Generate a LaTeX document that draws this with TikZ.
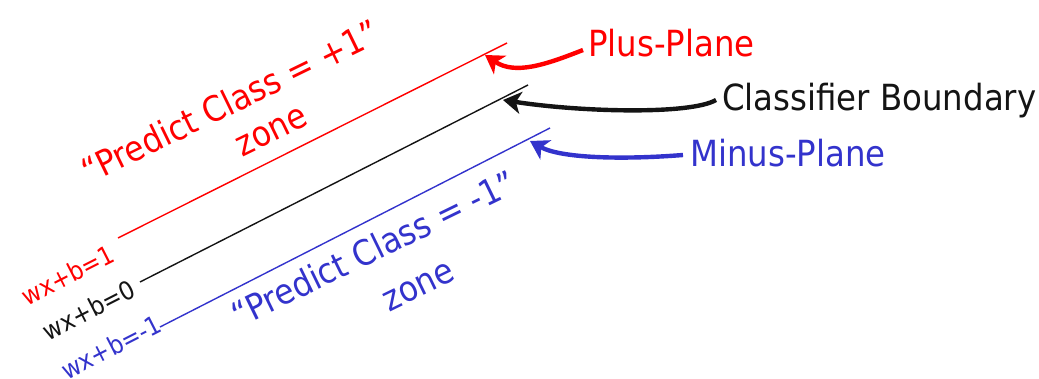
\documentclass[tikz,border=0pt]{standalone}
\usepackage{fontspec}
\setmainfont{DejaVu Sans}
\newfontfamily\tfont[FakeStretch=0.9]{DejaVu Sans}
\usetikzlibrary{arrows.meta}
\definecolor{pred}{RGB}{255,0,0}
\definecolor{pblue}{RGB}{51,51,204}
\definecolor{pblack}{RGB}{20,20,20}
\begin{document}
\begin{tikzpicture}[x=1pt,y=-1pt,
  plane/.style={line width=1.4pt},
  pointer/.style={line width=4.4pt, -{Stealth[length=18pt,width=22pt,inset=5pt]}},
  bigtext/.style={font=\tfont\fontsize{36}{40}\selectfont, inner sep=0pt},
  zonetext/.style={font=\tfont\fontsize{35}{40}\selectfont, inner sep=0pt, rotate=26},
  smalltext/.style={font=\tfont\fontsize{25.5}{28}\selectfont, inner sep=0pt, rotate=27}]
\useasboundingbox (0,0) rectangle (1039,379);
% planes
\coordinate (r1) at (118,238); \coordinate (r2) at (507,43);
\coordinate (k1) at (140,282); \coordinate (k2) at (528,85);
\coordinate (b1) at (160,327); \coordinate (b2) at (550,128);
\draw[plane, pred] (r1) -- (r2);
\draw[plane, pblack] (k1) -- (k2);
\draw[plane, pblue] (b1) -- (b2);
% labels on planes
\node[smalltext, pred] (lr) at (68,275) {wx+b=1};
\node[smalltext, pblack] (lk) at (89,310) {wx+b=0};
\node[smalltext, pblue] (lb) at (111,347) {wx+b=-1};
% zone texts
\node[zonetext, pred, anchor=base] (zr) at (236,113) {“Predict Class = +1”};
\node[zonetext, pred] (zr2) at (272,132) {zone};
\node[zonetext, pblue, anchor=base] (zb) at (379,260) {“Predict Class = -1”};
\node[zonetext, pblue] (zb2) at (419,287) {zone};
% names
\node[bigtext, pred, anchor=base west] (plus) at (588,57) {Plus-Plane};
\node[bigtext, pblack, anchor=base west] (cls) at (722,111) {Classifier Boundary};
\node[bigtext, pblue, anchor=base west] (minus) at (690,167) {Minus-Plane};
% pointers
\coordinate (ps) at (583,50); \coordinate (pt) at (485,55);
\coordinate (cs) at (716,100); \coordinate (ct) at (503,100);
\coordinate (ms) at (683,155); \coordinate (mt) at (530,141);
\draw[pointer, pred] (ps) .. controls (545,65) and (515,75) .. (pt);
\draw[pointer, pblack] (cs) .. controls (690,115) and (580,112) .. (ct);
\draw[pointer, pblue] (ms) .. controls (620,160) and (560,158) .. (mt);
\end{tikzpicture}
\end{document}
